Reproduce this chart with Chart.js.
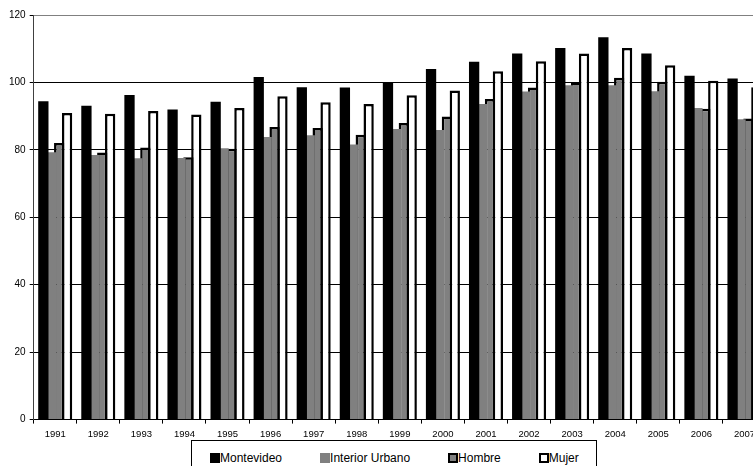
<!DOCTYPE html>
<html>
<head>
<meta charset="utf-8">
<script src="https://cdn.jsdelivr.net/npm/chart.js@4.4.1/dist/chart.umd.min.js"></script>
<style>
  html, body { margin: 0; padding: 0; width: 753px; height: 466px; overflow: hidden; background: #fff; }
  #wrap { position: absolute; left: 0; top: 0; width: 780px; height: 480px; }
  #c { position: absolute; left: 0; top: 0; }
  #legend {
    position: absolute; left: 191px; top: 440px;
    border: 1px solid #000; background: #fff;
    display: flex; align-items: flex-start; padding-left: 18px; gap: 38px;
    font-family: 'Liberation Sans', Arial, sans-serif; font-size: 12px; color: #000;
    padding-top: 10px; box-sizing: border-box; width: 406px; height: 40px;
  }
  .item { display: flex; align-items: center; white-space: nowrap; line-height: 14px; }
  .sw { width: 10px; height: 10px; box-sizing: border-box; display: inline-block; }
</style>
</head>
<body>
<div id="wrap">
  <canvas id="c" width="780" height="466"></canvas>
  <div id="legend"></div>
</div>
<script>
const years = ['1991','1992','1993','1994','1995','1996','1997','1998','1999','2000','2001','2002','2003','2004','2005','2006','2007'];
const seriesNames = ['Montevideo', 'Interior Urbano', 'Hombre', 'Mujer'];
const montevideo = [94.4, 93.1, 96.3, 92.0, 94.3, 101.6, 98.6, 98.5, 99.8, 104.0, 106.1, 108.6, 110.2, 113.4, 108.6, 102.0, 101.2];
const interiorUrbano = [79.3, 78.5, 77.5, 77.6, 80.5, 83.8, 84.3, 81.6, 86.2, 85.9, 93.6, 97.3, 99.2, 99.2, 97.4, 92.4, 89.1];
const hombre = [82.0, 79.2, 80.7, 77.8, 80.3, 86.8, 86.5, 84.5, 88.0, 89.9, 95.1, 98.5, 100.0, 101.4, 100.2, 92.2, 89.3];
const mujer = [90.9, 90.7, 91.5, 90.5, 92.4, 95.9, 94.1, 93.6, 96.2, 97.6, 103.3, 106.3, 108.6, 110.2, 105.1, 100.5, 98.6];
const yTicks = [0, 20, 40, 60, 80, 100, 120];

const GRAY = '#808080';
const styles = [
  { backgroundColor: '#000000', borderColor: '#000000', borderWidth: 0 },
  { backgroundColor: GRAY, borderColor: GRAY, borderWidth: 0 },
  { backgroundColor: GRAY, borderColor: '#000000', borderWidth: 2.5 },
  { backgroundColor: '#ffffff', borderColor: '#000000', borderWidth: 2.5 }
];
const values = [montevideo, interiorUrbano, hombre, mujer];

const datasets = seriesNames.map((name, i) => Object.assign({
  label: name,
  data: values[i],
  categoryPercentage: 0.735,
  barPercentage: 1.3,
  borderSkipped: 'start'
}, styles[i]));

new Chart(document.getElementById('c'), {
  type: 'bar',
  data: { labels: years, datasets },
  options: {
    responsive: false,
    animation: false,
    devicePixelRatio: 1,
    layout: { padding: { left: 5, right: 14, top: 15, bottom: 21 } },
    plugins: { legend: { display: false }, tooltip: { enabled: false } },
    scales: {
      x: {
        offset: true,
        grid: { display: true, drawOnChartArea: false, drawTicks: true, tickLength: 4, offset: true, color: '#000' },
        border: { display: true, color: '#000', width: 1 },
        ticks: { color: '#000', font: { family: "'Liberation Sans', Arial, sans-serif", size: 9.5 }, padding: 5, maxRotation: 0, autoSkip: false }
      },
      y: {
        min: 0, max: 120,
        afterBuildTicks: (axis) => { axis.ticks = yTicks.map(v => ({ value: v })); },
        grid: {
          color: (ctx) => (ctx.tick && ctx.tick.value === 120) ? GRAY : '#000',
          lineWidth: 1,
          tickLength: 4,
          tickColor: '#000'
        },
        border: { display: true, color: '#404040', width: 1 },
        ticks: { color: '#000', font: { family: "'Liberation Sans', Arial, sans-serif", size: 10 }, padding: 4 }
      }
    }
  }
});

const legend = document.getElementById('legend');
seriesNames.forEach((name, i) => {
  const it = document.createElement('div');
  it.className = 'item';
  const sw = document.createElement('span');
  sw.className = 'sw';
  sw.style.background = styles[i].backgroundColor;
  if (styles[i].borderWidth > 0) sw.style.border = '2px solid ' + styles[i].borderColor;
  const tx = document.createElement('span');
  tx.textContent = name;
  it.appendChild(sw);
  it.appendChild(tx);
  legend.appendChild(it);
});
</script>
</body>
</html>
